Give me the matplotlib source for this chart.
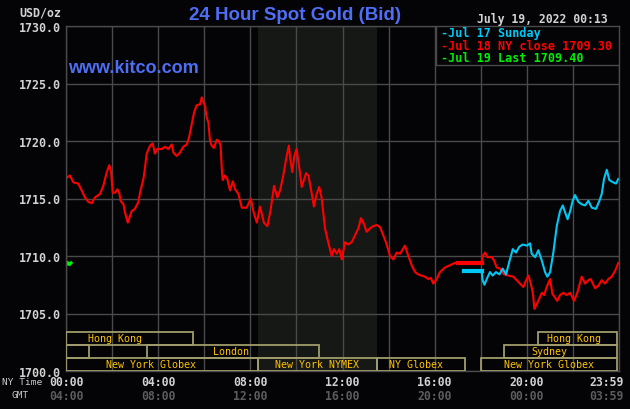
import numpy as np
import matplotlib
matplotlib.use("Agg")
import matplotlib.pyplot as plt
import matplotlib.transforms as mtransforms
from matplotlib.patches import Rectangle

# hours after midnight (NY time) and spot bid in USD/oz
red_hours = [0.03, 0.17, 0.32, 0.53, 0.68, 0.82, 0.97, 1.12, 1.26, 1.48, 1.62, 1.77, 1.88, 1.95,
             2.03, 2.13, 2.23, 2.31, 2.37, 2.49, 2.56, 2.68, 2.78, 2.85, 2.99, 3.14, 3.21, 3.36,
             3.43, 3.50, 3.65, 3.76, 3.86, 3.96, 4.15, 4.30, 4.44, 4.59, 4.66, 4.80, 4.95, 5.09,
             5.24, 5.34, 5.46, 5.56, 5.67, 5.82, 5.89, 5.96, 6.03, 6.10, 6.18, 6.25, 6.32, 6.42,
             6.54, 6.64, 6.71, 6.76, 6.80, 6.90, 7.00, 7.12, 7.24, 7.34, 7.48, 7.63, 7.84, 8.02,
             8.13, 8.28, 8.42, 8.59, 8.74, 8.88, 9.03, 9.17, 9.29, 9.43, 9.55, 9.67, 9.75, 9.82,
             9.91, 10.01, 10.13, 10.23, 10.42, 10.52, 10.66, 10.76, 10.88, 10.99, 11.10, 11.24,
             11.38, 11.53, 11.63, 11.75, 11.86, 11.97, 12.11, 12.25, 12.40, 12.54, 12.69, 12.80,
             12.93, 13.05, 13.19, 13.34, 13.49, 13.63, 13.77, 13.92, 14.06, 14.21, 14.35, 14.50,
             14.71, 14.86, 15.00, 15.15, 15.29, 15.44, 15.58, 15.72, 15.83, 15.94, 16.09, 16.23,
             16.45, 16.67, 16.88, 17.03, 18.04, 18.08, 18.19, 18.29, 18.48, 18.58, 18.69, 18.84,
             19.01, 19.20, 19.41, 19.56, 19.70, 19.85, 19.97, 20.07, 20.17, 20.26, 20.33, 20.43,
             20.54, 20.65, 20.75, 20.86, 21.01, 21.11, 21.22, 21.32, 21.44, 21.58, 21.73, 21.88,
             22.05, 22.19, 22.38, 22.53, 22.67, 22.77, 22.96, 23.10, 23.25, 23.39, 23.54, 23.68,
             23.83, 23.97]
red_price = [1716.8, 1717.0, 1716.4, 1716.3, 1715.7, 1715.1, 1714.7, 1714.6, 1715.1, 1715.4, 1716.1,
             1717.3, 1717.9, 1717.4, 1715.5, 1715.5, 1715.8, 1715.5, 1714.8, 1714.5, 1713.8, 1712.9,
             1713.5, 1713.9, 1714.1, 1714.7, 1715.5, 1716.7, 1717.7, 1718.9, 1719.6, 1719.8, 1718.9,
             1719.3, 1719.3, 1719.5, 1719.3, 1719.7, 1719.0, 1718.7, 1719.0, 1719.5, 1719.7, 1720.3,
             1721.5, 1722.5, 1723.1, 1723.2, 1723.8, 1723.4, 1723.1, 1722.1, 1721.6, 1720.0, 1719.6,
             1719.4, 1720.1, 1720.0, 1719.6, 1717.6, 1716.6, 1717.0, 1716.7, 1715.7, 1716.5, 1715.8,
             1715.4, 1714.2, 1714.2, 1715.0, 1713.9, 1712.9, 1714.3, 1712.9, 1712.6, 1714.0, 1716.1,
             1715.1, 1715.7, 1717.0, 1718.4, 1719.6, 1718.2, 1717.3, 1718.7, 1719.3, 1717.6, 1716.0,
             1717.2, 1717.0, 1715.5, 1714.3, 1715.4, 1716.0, 1715.0, 1712.4, 1711.2, 1710.0, 1710.6,
             1710.2, 1710.6, 1709.7, 1711.2, 1711.0, 1711.2, 1711.8, 1712.4, 1713.3, 1712.8, 1712.1,
             1712.4, 1712.6, 1712.7, 1712.5, 1711.8, 1711.0, 1710.0, 1709.7, 1710.3, 1710.2, 1710.9,
             1710.0, 1709.2, 1708.6, 1708.4, 1708.3, 1708.2, 1708.0, 1708.1, 1707.6, 1708.0, 1708.6,
             1709.0, 1709.2, 1709.4, 1709.35, 1709.35, 1710.0, 1710.3, 1709.9, 1709.9, 1709.6, 1709.0,
             1708.9, 1708.4, 1708.3, 1708.2, 1707.9, 1707.6, 1707.3, 1707.9, 1708.3, 1707.6, 1706.8,
             1705.4, 1705.8, 1706.3, 1706.8, 1706.6, 1707.3, 1708.0, 1706.7, 1706.4, 1706.1, 1706.6,
             1706.8, 1706.6, 1706.8, 1706.1, 1706.8, 1708.2, 1707.6, 1707.9, 1708.0, 1707.2, 1707.4,
             1707.9, 1707.6, 1708.0, 1708.2, 1708.7, 1709.4]

cyan_hours = [17.27, 18.04, 18.08, 18.16, 18.26, 18.40, 18.52, 18.66, 18.81, 18.95, 19.10, 19.24,
              19.39, 19.53, 19.67, 19.82, 20.00, 20.14, 20.21, 20.36, 20.50, 20.65, 20.79, 20.89,
              21.01, 21.15, 21.30, 21.44, 21.56, 21.66, 21.77, 21.88, 21.99, 22.09, 22.24, 22.38,
              22.53, 22.67, 22.82, 23.00, 23.15, 23.25, 23.35, 23.47, 23.58, 23.75, 23.87, 23.97]
cyan_price = [1708.67, 1708.67, 1707.9, 1707.5, 1708.0, 1708.6, 1708.3, 1708.6, 1708.4, 1708.9,
              1708.4, 1709.5, 1710.6, 1710.3, 1710.8, 1711.0, 1710.9, 1711.1, 1710.2, 1709.9,
              1710.5, 1709.6, 1708.6, 1708.2, 1708.6, 1710.3, 1712.6, 1713.9, 1714.4, 1713.8,
              1713.2, 1713.9, 1714.8, 1715.3, 1714.7, 1714.5, 1714.4, 1714.8, 1714.2, 1714.1,
              1714.8, 1715.4, 1716.7, 1717.5, 1716.6, 1716.4, 1716.3, 1716.7]

green_hours = [0.0, 0.05, 0.1, 0.15, 0.22]
green_price = [1709.5, 1709.3, 1709.4, 1709.25, 1709.4]

tick_hours = [0, 4, 8, 12, 16, 20]
ny_labels = ["00:00", "04:00", "08:00", "12:00", "16:00", "20:00"]
gmt_labels = ["04:00", "08:00", "12:00", "16:00", "20:00", "00:00"]

# trading sessions: name, start, end (NY hours), row (0 = bottom), label position
sess_names = ["Hong Kong", "Hong Kong", "", "London", "Sydney",
              "New York Globex", "New York NYMEX", "NY Globex", "New York Globex"]
sess_start = [0, 20.5, 0, 3.5, 19.0, 0, 8.33, 13.5, 18.0]
sess_end = [5.5, 23.92, 1.0, 11.0, 23.92, 8.33, 13.5, 17.33, 23.92]
sess_row = [2, 2, 1, 1, 1, 0, 0, 0, 0]
sess_label_at = [2.13, 22.05, 0.5, 7.16, 20.99, 3.67, 10.89, 15.19, 20.98]
nymex_open, nymex_close = 8.33, 13.5

legend_labels = ["-Jul 17 Sunday", "-Jul 18 NY close 1709.30", "-Jul 19 Last 1709.40"]
legend_colors = ["#00c8f5", "#ff0000", "#00ee00"]

bg = "#040406"
grid_c = "#4a4a4a"
box_c = "#a09c6a"
sess_txt = "#ffc400"
mono = "DejaVu Sans Mono"

fig = plt.figure(figsize=(6.3, 4.1), dpi=100, facecolor=bg)
ax = fig.add_axes([66 / 630, 38 / 410, 553 / 630, 345 / 410], facecolor=bg)
ax.set_xlim(0, 24)
ax.set_ylim(1700, 1730)

ax.axvspan(nymex_open, nymex_close, color="#151815", zorder=0.2, lw=0)

ax.set_xticks(np.arange(0, 25, 2))
ax.set_xticklabels([])
ax.set_yticks(np.arange(1700, 1731, 5))
ax.set_yticklabels(["%.1f" % v for v in np.arange(1700, 1731, 5)],
                   fontfamily=mono, fontweight="bold", fontsize=8.4, color="#d2d2d2")
ax.tick_params(length=0, pad=4)
ax.set_axisbelow(True)
ax.grid(True, color=grid_c, lw=1)
for s in ax.spines.values():
    s.set_color(grid_c)
    s.set_linewidth(1)

# price lines, with the closed-market gaps drawn thicker
for hrs, prc, col in [(red_hours, red_price, "#ff0000"), (cyan_hours, cyan_price, "#00c8f5")]:
    ax.plot(hrs, prc, color=col, lw=1.5, zorder=2)
    h = np.array(hrs)
    for i in np.where(np.diff(h) > 0.5)[0]:
        ax.plot(hrs[i:i + 2], prc[i:i + 2], color=col, lw=3, zorder=2)
ax.plot(green_hours, green_price, color="#00ee00", lw=2.2, zorder=2)

# session boxes along the bottom
row_h = 13 / 11.5
for name, a, b, r, lx in zip(sess_names, sess_start, sess_end, sess_row, sess_label_at):
    y0 = 1700 + r * row_h
    ax.add_patch(Rectangle((a, y0), b - a, row_h, fill=False, ec=box_c, lw=1.3, zorder=3))
    ax.text(lx, y0 + row_h / 2, name, ha="center", va="center", fontfamily=mono,
            fontsize=7.2, color=sess_txt, zorder=4)

# legend box
ax.add_patch(Rectangle((0.6685, 0.888), 0.3315, 0.112, transform=ax.transAxes,
                       fc=bg, ec=grid_c, lw=1, zorder=5))
for i, (lab, col) in enumerate(zip(legend_labels, legend_colors)):
    fig.text(441 / 630, 1 - (34 + 12.5 * i) / 410, lab, ha="left", va="center",
             fontfamily=mono, fontweight="bold", fontsize=8.5, color=col)

# time labels
trans = mtransforms.blended_transform_factory(ax.transData, fig.transFigure)
for h, ny, gm in zip(tick_hours, ny_labels, gmt_labels):
    ax.text(h, 1 - 383 / 410, ny, transform=trans, ha="center", va="center", fontfamily=mono,
            fontweight="bold", fontsize=8.3, color="#d2d2d2", clip_on=False)
    ax.text(h, 1 - 397 / 410, gm, transform=trans, ha="center", va="center", fontfamily=mono,
            fontweight="bold", fontsize=8.3, color="#5c5c5c", clip_on=False)
ax.text(24.2, 1 - 383 / 410, "23:59", transform=trans, ha="right", va="center", fontfamily=mono,
        fontweight="bold", fontsize=8.3, color="#d2d2d2", clip_on=False)
ax.text(24.2, 1 - 397 / 410, "03:59", transform=trans, ha="right", va="center", fontfamily=mono,
        fontweight="bold", fontsize=8.3, color="#5c5c5c", clip_on=False)
fig.text(2 / 630, 1 - 383 / 410, "NY Time", ha="left", va="center", fontfamily=mono,
         fontsize=6.8, color="#c8c8c8")
fig.text(11 / 630, 1 - 396 / 410, "GMT", ha="left", va="center", fontfamily=mono,
         fontsize=6.8, color="#c8c8c8")

fig.text(61 / 630, 1 - 13 / 410, "USD/oz", ha="right", va="center", fontfamily=mono,
         fontweight="bold", fontsize=8.4, color="#d2d2d2")
fig.text(295 / 630, 1 - 16 / 410, "24 Hour Spot Gold (Bid)", ha="center", va="center",
         fontfamily="Liberation Sans", fontweight="bold", fontsize=13.5, color="#4d6ef5")
fig.text(608 / 630, 1 - 19 / 410, "July 19, 2022 00:13", ha="right", va="center",
         fontfamily=mono, fontweight="bold", fontsize=8.3, color="#d2d2d2")
ax.text(0.004, 0.88, "www.kitco.com", transform=ax.transAxes, ha="left", va="center",
        fontfamily="Liberation Sans", fontweight="bold", fontsize=13, color="#4d6ef5", zorder=4)

fig.savefig("out.png", dpi=100, facecolor=bg)
